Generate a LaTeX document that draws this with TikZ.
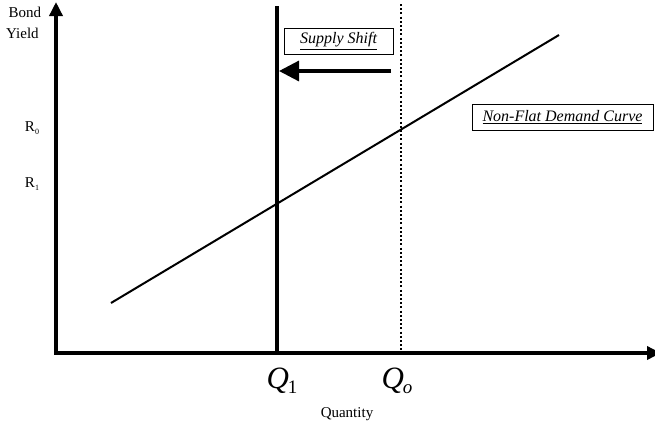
\documentclass[tikz,border=0pt]{standalone}
\usepackage{fontspec}
\setmainfont{Liberation Serif}
\usetikzlibrary{arrows.meta}
\begin{document}
\begin{tikzpicture}[x=1pt,y=-1pt,
  axis/.style={line width=3.4pt,-{Triangle[length=14pt,width=13pt]}},
  curve/.style={line width=2pt},
  supply/.style={line width=3.6pt},
  dots/.style={line width=2.4pt,dash pattern=on 2pt off 2.2pt},
  lbl/.style={font=\fontsize{15}{21}\selectfont,inner sep=0pt},
  tag/.style={draw,line width=0.7pt,font=\fontsize{16}{18}\selectfont\itshape,inner sep=2pt,minimum height=26pt},
  qlab/.style={font=\fontsize{31}{32}\selectfont,inner sep=0pt,anchor=base}]
\useasboundingbox (0,0) rectangle (655,426);
\coordinate (O) at (56,353);
\coordinate (ytop) at (56,2);
\coordinate (xend) at (661,353);
\coordinate (d1) at (111,303);
\coordinate (d2) at (559,35);
\coordinate (s1) at (277,6);
\coordinate (s2) at (277,353);
\coordinate (q1) at (401,4);
\coordinate (q2) at (401,353);
\coordinate (a1) at (391,71);
\coordinate (a2) at (279,71);
\draw[curve] (d1) -- (d2);
\draw[supply] (s1) -- (s2);
\draw[dots] (q1) -- (q2);
\draw[line width=3.2pt,-{Triangle[length=20pt,width=20pt]}] (a1) -- (a2);
\draw[axis] ([yshift=1.7pt]O) -- (ytop);
\draw[axis] ([xshift=-1.7pt]O) -- (xend);
\node[tag,minimum width=109pt] (ss) at (338.5,41) {\underline{Supply Shift}};
\node[tag,minimum width=181pt] (nf) at (562.5,117) {\underline{Non-Flat Demand Curve}};
\node[lbl,anchor=north west,align=left] (by) at (6,7) {\,Bond\\Yield};
\node[lbl] (r0) at (32,128) {R\raisebox{-3pt}{\fontsize{8}{9}\selectfont 0}};
\node[lbl] (r1) at (32,184) {R\raisebox{-3pt}{\fontsize{8}{9}\selectfont 1}};
\node[qlab] (lq1) at (282,388) {\textit{Q}\kern-1pt\raisebox{-5pt}{\fontsize{19}{20}\selectfont 1}};
\node[qlab] (lqo) at (397,388) {\textit{Q}\kern-1pt\raisebox{-5pt}{\fontsize{19}{20}\selectfont\itshape o}};
\node[lbl] (qt) at (347,414) {Quantity};
\end{tikzpicture}
\end{document}
